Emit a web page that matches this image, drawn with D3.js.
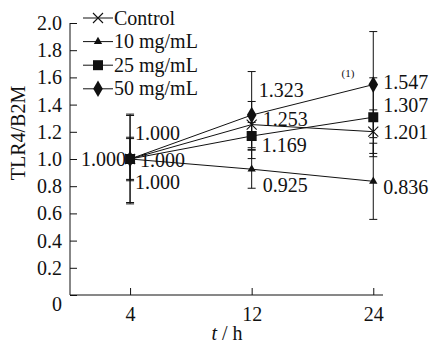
<!DOCTYPE html>
<html>
<head>
<meta charset="utf-8">
<script src="https://cdn.jsdelivr.net/npm/d3@7"></script>
<style>
  body { margin: 0; background: #fff; }
</style>
</head>
<body>
<div id="chart"></div>
<script>
// data
const times = [4, 12, 24];
const seriesNames = ["Control", "10 mg/mL", "25 mg/mL", "50 mg/mL"];
const controlVals = [1.000, 1.253, 1.201];
const mg10Vals = [1.000, 0.925, 0.836];
const mg25Vals = [1.000, 1.169, 1.307];
const mg50Vals = [1.000, 1.323, 1.547];
const controlErr = [0.32, 0.17, 0.16];
const mg10Err = [0.15, 0.14, 0.28];
const mg25Err = [0.16, 0.10, 0.29];
const mg50Err = [0.33, 0.32, 0.39];
const yTicks = [0, 0.2, 0.4, 0.6, 0.8, 1.0, 1.2, 1.4, 1.6, 1.8, 2.0];

// label offsets (layout only)
const labelOffsets = [
  [[-4, 7, "end"], [11, 1, "start"], [10, 7, "start"]],
  [[5, 30, "start"], [11, 23, "start"], [10, 13, "start"]],
  [[10, 8, "start"], [10, 16, "start"], [10, -5, "start"]],
  [[5, -19, "start"], [7, -18, "start"], [10, 4, "start"]]
];
const markers = ["cross", "triangle", "square", "diamond"];
const FONT = "'Liberation Serif', 'Times New Roman', Times, serif";

const series = seriesNames.map((name, i) => ({
  name,
  vals: [controlVals, mg10Vals, mg25Vals, mg50Vals][i],
  err: [controlErr, mg10Err, mg25Err, mg50Err][i],
  marker: markers[i],
  offs: labelOffsets[i]
}));

const width = 431, height = 344;
const svg = d3.select("#chart").append("svg")
  .attr("width", width).attr("height", height)
  .style("font-family", FONT);

// x is evenly spaced by index
const x = d3.scaleLinear().domain([-0.494, 2.08]).range([70, 383]);
const y = d3.scaleLinear().domain([0, 2]).range([295, 23]);

// axes
const yAxis = d3.axisLeft(y).tickValues(yTicks)
  .tickSize(-7).tickPadding(8)
  .tickFormat(d => d === 0 ? "0" : d3.format(".1f")(d));
const gy = svg.append("g").attr("transform", "translate(70,0)").call(yAxis);
gy.attr("font-family", null);
gy.select(".domain").attr("d", `M0,${y(2)}V${y(0)}`);
gy.selectAll("text").attr("font-size", 20).attr("fill", "#111");
gy.selectAll(".tick").filter(d => d === 0).select("text").attr("dy", "0.75em");

const xAxis = d3.axisBottom(x).tickValues([0, 1, 2])
  .tickFormat(i => times[i]).tickSize(-7).tickPadding(12);
const gx = svg.append("g").attr("transform", "translate(0,295)").call(xAxis);
gx.attr("font-family", null);
gx.select(".domain").attr("d", "M70,0H383");
gx.selectAll("text").attr("font-size", 20).attr("fill", "#111");
svg.selectAll(".domain, .tick line").attr("stroke", "#111");

// axis titles
svg.append("text")
  .attr("transform", "translate(25,133) rotate(-90)")
  .attr("text-anchor", "middle").attr("font-size", 20).attr("fill", "#111")
  .text("TLR4/B2M");
const xt = svg.append("text").attr("x", 227).attr("y", 340)
  .attr("text-anchor", "middle").attr("font-size", 20).attr("fill", "#111");
xt.append("tspan").attr("font-style", "italic").text("t");
xt.append("tspan").text(" / h");

function drawMarker(g, type, cx, cy) {
  if (type === "cross") {
    g.append("path").attr("d", `M${cx-5},${cy-5}L${cx+5},${cy+5}M${cx-5},${cy+5}L${cx+5},${cy-5}`)
      .attr("stroke", "#111").attr("stroke-width", 1.1).attr("fill", "none");
  } else {
    const sym = { triangle: d3.symbolTriangle, square: d3.symbolSquare, diamond: d3.symbolDiamond }[type];
    const size = { triangle: 30, square: 100, diamond: 80 }[type];
    g.append("path").attr("d", d3.symbol(sym, size)())
      .attr("transform", `translate(${cx},${cy})`).attr("fill", "#111");
  }
}

// error bars
series.forEach(s => {
  s.vals.forEach((v, i) => {
    const cx = x(i), e = s.err[i];
    svg.append("path")
      .attr("d", `M${cx},${y(v + e)}V${y(v - e)}M${cx-4},${y(v + e)}H${cx+4}M${cx-4},${y(v - e)}H${cx+4}`)
      .attr("stroke", "#111").attr("stroke-width", 1).attr("fill", "none");
  });
});

// lines
const line = d3.line().x((d, i) => x(i)).y(d => y(d));
series.forEach(s => {
  svg.append("path").datum(s.vals).attr("d", line)
    .attr("fill", "none").attr("stroke", "#111").attr("stroke-width", 1);
});

// markers and labels
series.forEach(s => {
  const g = svg.append("g");
  s.vals.forEach((v, i) => {
    drawMarker(g, s.marker, x(i), y(v));
    const o = s.offs[i];
    g.append("text").attr("x", x(i) + o[0]).attr("y", y(v) + o[1])
      .attr("text-anchor", o[2]).attr("font-size", 20).attr("fill", "#111")
      .text(d3.format(".3f")(v));
  });
});

// annotation
svg.append("text").attr("x", 348).attr("y", 77).attr("text-anchor", "middle")
  .attr("font-size", 11).attr("fill", "#111").text("(1)");

// legend
const legend = svg.append("g");
series.forEach((s, i) => {
  const ly = 18 + i * 23.6;
  legend.append("path").attr("d", `M83,${ly}H113`).attr("stroke", "#111");
  drawMarker(legend, s.marker, 98, ly);
  legend.append("text").attr("x", 114).attr("y", ly + 6.5)
    .attr("font-size", 20).attr("fill", "#111").text(s.name);
});
</script>
</body>
</html>
